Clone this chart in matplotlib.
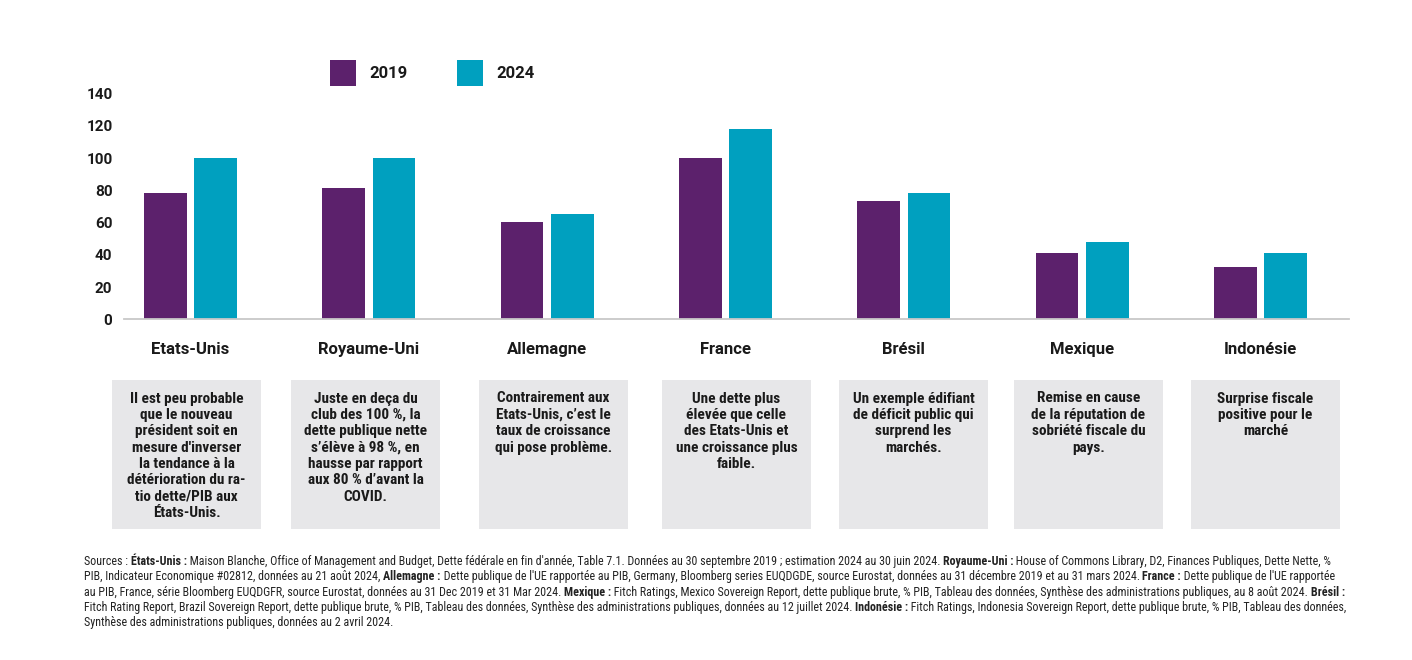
import matplotlib
matplotlib.use("Agg")
import matplotlib.pyplot as plt
from matplotlib import font_manager
from matplotlib.patches import Rectangle
import matplotlib.transforms as mtransforms
import numpy as np

# ---------------- data ----------------
categories = ["Etats-Unis", "Royaume-Uni", "Allemagne", "France", "Brésil", "Mexique", "Indonésie"]
values_2019 = [78, 81, 60, 100, 73, 41, 32]
values_2024 = [100, 100, 65, 118, 78, 48, 41]
series_labels = ["2019", "2024"]
y_ticks = [0, 20, 40, 60, 80, 100, 120, 140]

notes = [
    ["Il est peu probable", "que le nouveau", "président soit en", "mesure d'inverser",
     "la tendance à la", "détérioration du ra-", "tio dette/PIB aux", "États-Unis."],
    ["Juste en deça du", "club des 100 %, la", "dette publique nette", "s’élève à 98 %, en",
     "hausse par rapport", "aux 80 % d’avant la", "COVID."],
    ["Contrairement aux", "Etats-Unis, c’est le", "taux de croissance", "qui pose problème."],
    ["Une dette plus", "élevée que celle", "des Etats-Unis et", "une croissance plus", "faible."],
    ["Un exemple édifiant", "de déficit public qui", "surprend les", "marchés."],
    ["Remise en cause", "de la réputation de", "sobriété fiscale du", "pays."],
    ["Surprise fiscale", "positive pour le", "marché"],
]

sources_lines = [
    [("Sources : ", False), ("États-Unis :", True),
     (" Maison Blanche, Office of Management and Budget, Dette fédérale en fin d'année, Table 7.1. Données au 30 septembre 2019 ; estimation 2024 au 30 juin 2024. ", False),
     ("Royaume-Uni :", True), (" House of Commons Library, D2, Finances Publiques, Dette Nette, %", False)],
    [("PIB, Indicateur Economique #02812, données au 21 août 2024, ", False), ("Allemagne :", True),
     (" Dette publique de l'UE rapportée au PIB, Germany, Bloomberg series EUQDGDE, source Eurostat, données au 31 décembre 2019 et au 31 mars 2024. ", False),
     ("France :", True), (" Dette publique de l'UE rapportée", False)],
    [("au PIB, France, série Bloomberg EUQDGFR, source Eurostat, données au 31 Dec 2019 et 31 Mar 2024. ", False),
     ("Mexique :", True),
     (" Fitch Ratings, Mexico Sovereign Report, dette publique brute, % PIB, Tableau des données, Synthèse des administrations publiques, au 8 août 2024. ", False),
     ("Brésil :", True)],
    [("Fitch Rating Report, Brazil Sovereign Report, dette publique brute, % PIB, Tableau des données, Synthèse des administrations publiques, données au 12 juillet 2024. ", False),
     ("Indonésie :", True),
     (" Fitch Ratings, Indonesia Sovereign Report, dette publique brute, % PIB, Tableau des données,", False)],
    [("Synthèse des administrations publiques, données au 2 avril 2024.", False)],
]

# ---------------- style ----------------
C2019 = "#5C216C"
C2024 = "#00A0BF"
BOX = "#E7E7E9"
TXT = "#1A1A1A"

W, H = 1412, 660
names = {f.name for f in font_manager.fontManager.ttflist}
main_font = "Roboto" if "Roboto" in names else "DejaVu Sans"
cond_font = next((n for n in ["Roboto Condensed", "Liberation Sans Narrow", "Open Sans Condensed"]
                  if n in names), main_font)

fig = plt.figure(figsize=(W / 100, H / 100), dpi=100)
fig.patch.set_facecolor("white")
renderer = fig.canvas.get_renderer()

def fx(px):
    return px / W

def fy(py):
    return 1 - py / H

# axes placement (pixels)
ax_left, ax_right, ax_top, ax_bottom = 124, 1349, 93, 319
ax = fig.add_axes([fx(ax_left), fy(ax_bottom), fx(ax_right - ax_left), (ax_bottom - ax_top) / H])

x = np.arange(len(categories))
group_px = 178.33
bw = 42.5 / group_px
off = 25.2 / group_px
b1 = ax.bar(x - off, values_2019, bw, color=C2019, label=series_labels[0], zorder=2)
b2 = ax.bar(x + off, values_2024, bw, color=C2024, label=series_labels[1], zorder=2)

ax.set_xlim(-(190.5 - ax_left) / group_px, len(categories) - 1 + (ax_right - 1260.5) / group_px)
ax.set_ylim(0, 140)
ax.set_yticks(y_ticks)
ax.set_xticks([])
for s in ["top", "right", "left"]:
    ax.spines[s].set_visible(False)
ax.spines["bottom"].set_color("#C8C8C8")
ax.spines["bottom"].set_linewidth(1.3)
ax.spines["bottom"].set_zorder(3)
ax.tick_params(axis="y", length=0, pad=8.3, labelsize=11, labelcolor=TXT)
for lbl in ax.get_yticklabels():
    lbl.set_fontweight("bold")
    lbl.set_family(main_font)
    lbl.set_va("center")
dy = mtransforms.ScaledTranslation(0, -2 / 100, fig.dpi_scale_trans)
for lbl in ax.get_yticklabels():
    lbl.set_transform(lbl.get_transform() + dy)

# category labels
trans = mtransforms.blended_transform_factory(ax.transData, fig.transFigure)
for xi, cat in zip(x, categories):
    ax.text(xi, fy(354), cat, transform=trans, ha="center", va="baseline",
            fontsize=12, fontweight="bold", family=main_font, color=TXT)

# legend
fs_leg = 12
fs_px = fs_leg * 100 / 72
leg = ax.legend(handles=[b1, b2], labels=series_labels, ncol=2, loc="upper left",
                bbox_to_anchor=(fx(330), fy(60)), bbox_transform=fig.transFigure,
                frameon=False, borderpad=0, borderaxespad=0,
                handlelength=26 / fs_px, handleheight=28 / fs_px + 0.3,
                handletextpad=13 / fs_px, columnspacing=50 / fs_px,
                prop={"family": main_font, "weight": "bold", "size": fs_leg})
for t in leg.get_texts():
    t.set_color(TXT)

# text measuring helper
def text_width(txt, size, family, weight):
    t = fig.text(0, 0, txt + "|", fontsize=size, family=family, weight=weight)
    w1 = t.get_window_extent(renderer).width
    t.set_text("|")
    w2 = t.get_window_extent(renderer).width
    t.remove()
    return w1 - w2

# note boxes
box_lefts = [112, 291, 479, 662, 839, 1014, 1191]
box_w, box_top, box_bot = 149, 380, 529
ref = text_width("une croissance plus", 10, cond_font, "bold")
note_size = min(11.2, 10 * 121 / ref)
for left, lines in zip(box_lefts, notes):
    fig.add_artist(Rectangle((fx(left), fy(box_bot)), fx(box_w), (box_bot - box_top) / H,
                             transform=fig.transFigure, facecolor=BOX, edgecolor="none"))
    cx = left + box_w / 2
    for i, line in enumerate(lines):
        fig.text(fx(cx), fy(402.5 + i * 16.4), line, ha="center", va="baseline",
                 fontsize=note_size, fontweight="bold", family=cond_font, color=TXT)

# sources text
src_left, src_right = 84, 1348
base = 7.0
w_line1 = sum(text_width(t, base, cond_font, "bold" if b else "normal") for t, b in sources_lines[0])
src_size = base * (src_right - src_left) / w_line1
for i, segs in enumerate(sources_lines):
    xp = src_left
    yp = 565 + i * 15.3
    for t, b in segs:
        wt = "bold" if b else "normal"
        fig.text(fx(xp), fy(yp), t, ha="left", va="baseline", fontsize=src_size,
                 fontweight=wt, family=cond_font, color="#222222")
        xp += text_width(t, src_size, cond_font, wt)

fig.savefig("out.png", dpi=100)
